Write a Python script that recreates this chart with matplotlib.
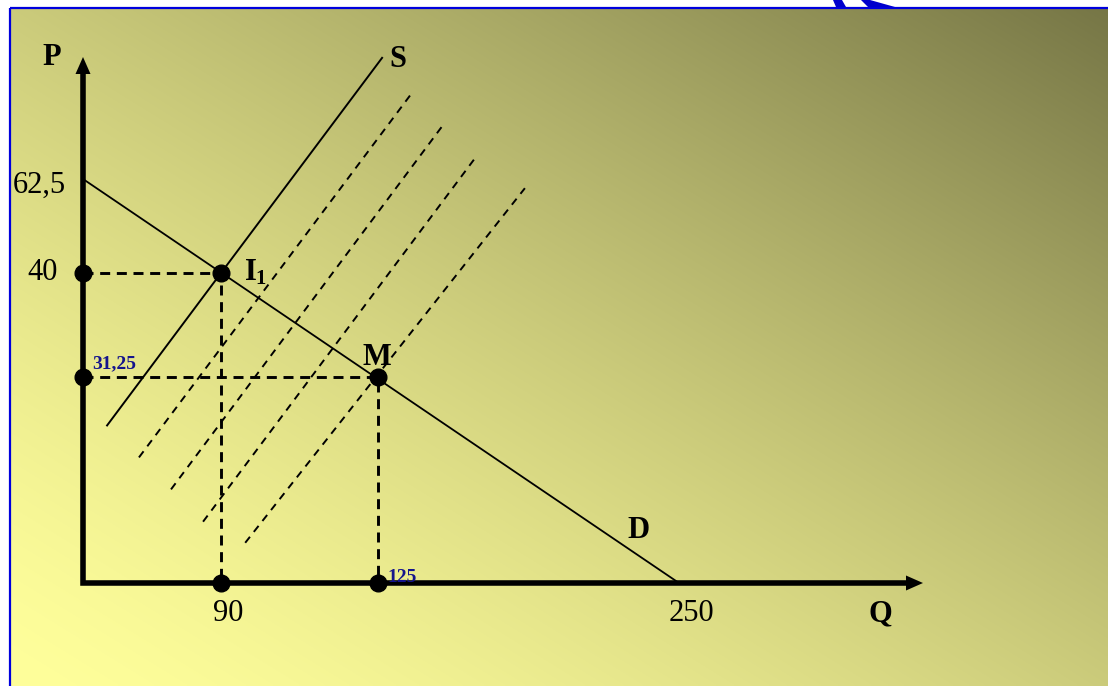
import numpy as np
import matplotlib
matplotlib.use("Agg")
import matplotlib.pyplot as plt
from matplotlib.patches import Polygon

plt.rcParams['font.family'] = ['Liberation Serif', 'DejaVu Serif']
plt.rcParams['lines.scale_dashes'] = False

# ---------------- data ----------------
q_ticks = [0, 90, 125, 250]           # quantity values marked on the Q axis
p_ticks = [0, 31.25, 40, 62.5]        # price values marked on the P axis
q_labels = ['90', '125', '250']
p_labels = ['62,5', '40', '31,25']

demand_q = [0, 250]
demand_p = [62.5, 0]

supply_q = [15.7, 90, 126.7]
supply_p = [23.9, 40, 91.5]

# shifted supply curves (dashed)
shift_q = [[36.5, 139.1], [57.4, 152.0], [78.3, 165.7], [95.4, 186.0]]
shift_p = [[19.05, 83.1], [14.2, 75.4], [9.3, 67.8], [6.1, 60.3]]

i1_q, i1_p = 90, 40
m_q, m_p = 125, 31.25

# ---------------- layout ----------------
W, H = 1108, 686
Q_PX = [83, 221, 378, 679]                      # schematic (non-proportional) axis
P_PX = [H - 583, H - 377, H - 273, H - 179]


def piecewise(xs, ys):
    xs = np.asarray(xs, float)
    ys = np.asarray(ys, float)
    s0 = (ys[1] - ys[0]) / (xs[1] - xs[0])
    s1 = (ys[-1] - ys[-2]) / (xs[-1] - xs[-2])

    def f(v):
        v = np.asarray(v, float)
        out = np.interp(v, xs, ys)
        out = np.where(v < xs[0], ys[0] + (v - xs[0]) * s0, out)
        out = np.where(v > xs[-1], ys[-1] + (v - xs[-1]) * s1, out)
        return out
    return f


fx, fx_inv = piecewise(q_ticks, Q_PX), piecewise(Q_PX, q_ticks)
fy, fy_inv = piecewise(p_ticks, P_PX), piecewise(P_PX, p_ticks)

fig = plt.figure(figsize=(W / 100, H / 100), dpi=100)

# ---------------- background ----------------
bg = fig.add_axes([0, 0, 1, 1])
bg.set_xlim(0, W)
bg.set_ylim(H, 0)
bg.axis('off')
xx, yy = np.meshgrid(np.linspace(0, 1, 400), np.linspace(0, 1, 250))
t = ((xx + (1 - yy)) / 2) ** 1.4
c0 = np.array([255, 255, 155]) / 255
c1 = np.array([118, 118, 70]) / 255
img = c0[None, None, :] * (1 - t[..., None]) + c1[None, None, :] * t[..., None]
bg.imshow(img, extent=(10, W, H, 8), aspect='auto', interpolation='bilinear')
blue = '#0000DD'
bg.plot([10, 10], [8, H], color=blue, lw=1.6, solid_capstyle='butt')
bg.plot([10, W], [8, 8], color=blue, lw=1.6, solid_capstyle='butt')
bg.add_patch(Polygon([(833, 0), (842, 0), (846, 7), (836, 7)], closed=True,
                     facecolor='#0000CC', edgecolor='none'))
bg.add_patch(Polygon([(861, 0), (870, 0), (895, 7), (868, 7)], closed=True,
                     facecolor='#0000CC', edgecolor='none'))

# ---------------- diagram ----------------
ax = fig.add_axes([0, 0, 1, 1])
ax.patch.set_visible(False)
ax.set_xscale('function', functions=(fx, fx_inv))
ax.set_yscale('function', functions=(fy, fy_inv))
ax.set_xlim(float(fx_inv(0)), float(fx_inv(W)))
ax.set_ylim(float(fy_inv(0)), float(fy_inv(H)))
ax.axis('off')

# axes with arrows
q_tip = float(fx_inv(922))
p_tip = float(fy_inv(H - 58))
q_shaft = float(fx_inv(910))
p_shaft = float(fy_inv(H - 70))
ax.plot([0, 0, q_shaft], [p_shaft, 0, 0], color='black', lw=4.0,
        solid_joinstyle='miter', solid_capstyle='butt', zorder=3)


def fpx(px, py):
    return (px / W, 1 - py / H)


fig.patches.append(Polygon([fpx(83, 57), fpx(75.5, 74), fpx(90.5, 74)], closed=True,
                           transform=fig.transFigure, facecolor='black', edgecolor='none'))
fig.patches.append(Polygon([fpx(923, 583), fpx(906, 575.5), fpx(906, 590.5)], closed=True,
                           transform=fig.transFigure, facecolor='black', edgecolor='none'))

# guide lines
guide = dict(color='black', lw=2.1, ls=(0, (7.2, 4.8)), zorder=2)
ax.plot([0, i1_q, i1_q], [i1_p, i1_p, 0], **guide)
ax.plot([0, m_q, m_q], [m_p, m_p, 0], **guide)

# shifted supply curves
for q, p in zip(shift_q, shift_p):
    ax.plot(q, p, color='black', lw=1.4, ls=(0, (5.5, 4.5)), zorder=2)

# demand and supply
ax.plot(demand_q, demand_p, color='black', lw=1.3, zorder=2)
ax.plot(supply_q, supply_p, color='black', lw=1.4, zorder=2)

# points
pts_q = [0, i1_q, 0, m_q, i1_q, m_q]
pts_p = [i1_p, i1_p, m_p, m_p, 0, 0]
ax.plot(pts_q, pts_p, 'o', color='black', ms=12, zorder=4)


def lab(text, xy, off, size=22, bold=False, color='black', ha='center', xycoords='data'):
    ax.annotate(text, xy=xy, xycoords=xycoords, xytext=off, textcoords='offset pixels',
                ha=ha, va='baseline', fontsize=size,
                fontweight='bold' if bold else 'normal', color=color, zorder=5)


navy = '#14148C'
# value labels
lab(q_labels[0], (q_ticks[1], 0), (7, -38))
lab(q_labels[1], (q_ticks[2], 0), (9, 1), size=14, bold=True, color=navy, ha='left')
lab(q_labels[2], (q_ticks[3], 0), (12, -38))
lab(p_labels[0], (0, p_ticks[3]), (-17, -14), ha='right')
lab(p_labels[1], (0, p_ticks[2]), (-25, -7), ha='right')
lab(p_labels[2], (0, p_ticks[1]), (9, 9), size=14, bold=True, color=navy, ha='left')

# point / curve labels
lab('I', (i1_q, i1_p), (24, -7), bold=True, ha='left')
lab('1', (i1_q, i1_p), (34, -11), size=15, bold=True, ha='left')
lab('M', (m_q, m_p), (-1, 12), bold=True)
lab('S', (supply_q[-1], supply_p[-1]), (16, -9), bold=True)
lab('D', (demand_q[-1], demand_p[-1]), (-41, 45), bold=True)
lab('P', (0, p_tip), (-31, -7), bold=True)
lab('Q', (q_tip, 0), (-42, -38), bold=True)

fig.savefig('out.png', dpi=100, facecolor='white')
